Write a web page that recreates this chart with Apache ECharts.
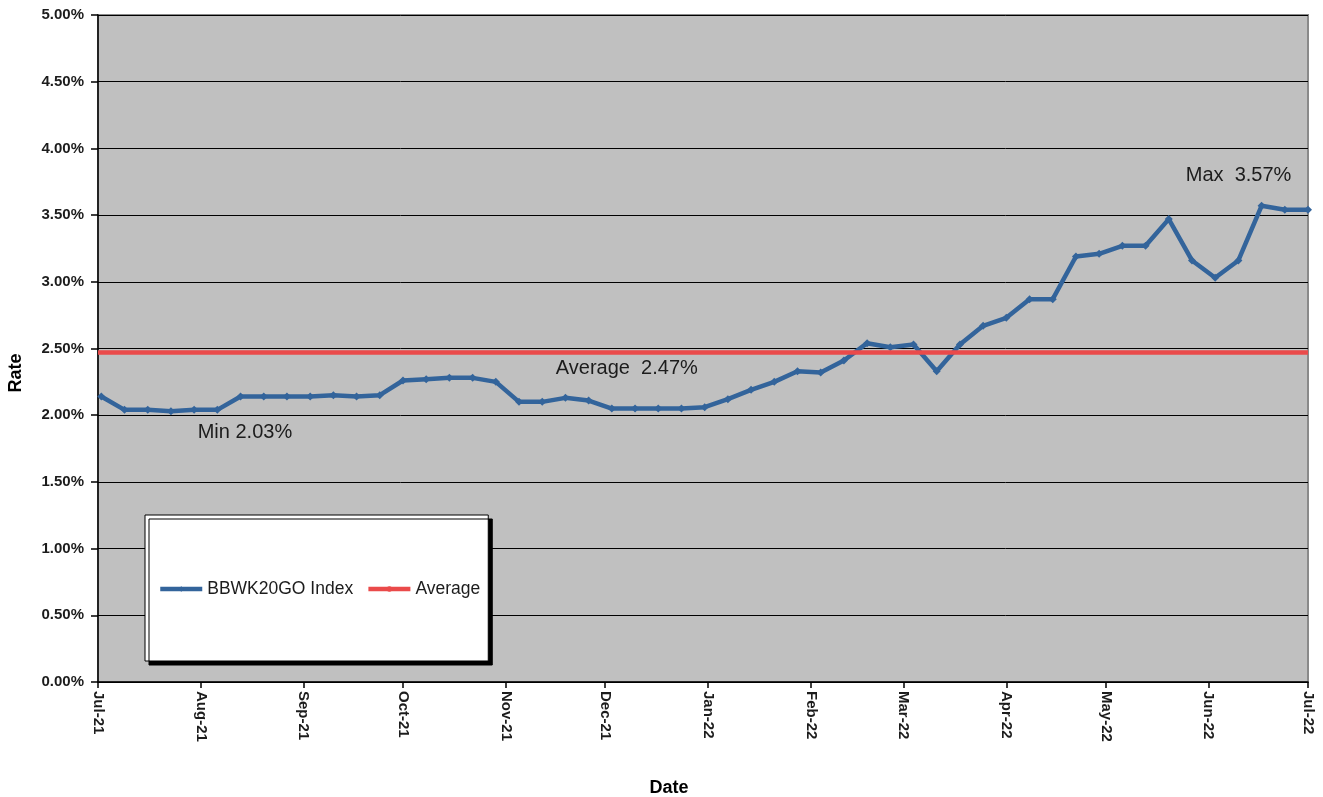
<!DOCTYPE html>
<html>
<head>
<meta charset="utf-8">
<title>BBWK20GO Index</title>
<script src="https://cdn.jsdelivr.net/npm/echarts@6/dist/echarts.min.js"></script>
<style>
  html, body { margin: 0; padding: 0; background: #ffffff; }
  #chart { width: 1323px; height: 797px; }
</style>
</head>
<body>
<div id="chart"></div>
<script>
// Weekly observation dates (Fridays)
const dates = [
  '2021-07-02','2021-07-09','2021-07-16','2021-07-23','2021-07-30',
  '2021-08-06','2021-08-13','2021-08-20','2021-08-27',
  '2021-09-03','2021-09-10','2021-09-17','2021-09-24',
  '2021-10-01','2021-10-08','2021-10-15','2021-10-22','2021-10-29',
  '2021-11-05','2021-11-12','2021-11-19','2021-11-26',
  '2021-12-03','2021-12-10','2021-12-17','2021-12-24','2021-12-31',
  '2022-01-07','2022-01-14','2022-01-21','2022-01-28',
  '2022-02-04','2022-02-11','2022-02-18','2022-02-25',
  '2022-03-04','2022-03-11','2022-03-18','2022-03-25',
  '2022-04-01','2022-04-08','2022-04-15','2022-04-22','2022-04-29',
  '2022-05-06','2022-05-13','2022-05-20','2022-05-27',
  '2022-06-03','2022-06-10','2022-06-17','2022-06-24','2022-07-01'
];

// BBWK20GO Index rate, in percent
const rates = [
  2.14, 2.04, 2.04, 2.03, 2.04,
  2.04, 2.14, 2.14, 2.14,
  2.14, 2.15, 2.14, 2.15,
  2.26, 2.27, 2.28, 2.28, 2.25,
  2.10, 2.10, 2.13, 2.11,
  2.05, 2.05, 2.05, 2.05, 2.06,
  2.12, 2.19, 2.25, 2.33,
  2.32, 2.41, 2.54, 2.51,
  2.53, 2.33, 2.53, 2.67,
  2.73, 2.87, 2.87, 3.19, 3.21,
  3.27, 3.27, 3.47, 3.16,
  3.03, 3.16, 3.57, 3.54, 3.54
];

// Average rate over the period, in percent
const AVERAGE = 2.47;

// Month-start ticks on the date axis and their labels
const monthTicks = [
  '2021-07-01','2021-08-01','2021-09-01','2021-10-01','2021-11-01','2021-12-01',
  '2022-01-01','2022-02-01','2022-03-01','2022-04-01','2022-05-01','2022-06-01','2022-07-01'
];
const monthLabels = [
  'Jul-21','Aug-21','Sep-21','Oct-21','Nov-21','Dec-21',
  'Jan-22','Feb-22','Mar-22','Apr-22','May-22','Jun-22','Jul-22'
];

function dayStamp(s) {
  const p = s.split('-').map(Number);
  return Date.UTC(p[0], p[1] - 1, p[2]);
}
const tickTimes = monthTicks.map(dayStamp);
const pointTimes = dates.map(dayStamp);
const pct = v => v.toFixed(2) + '%';

const FONT = '"Liberation Sans", Arial, Helvetica, sans-serif';
const BLUE = '#33649b';
const RED = '#ea4a4a';
const TEXT = '#1c1c1c';

const chart = echarts.init(document.getElementById('chart'), null, { renderer: 'canvas' });

chart.setOption({
  backgroundColor: '#ffffff',
  animation: false,
  textStyle: { fontFamily: FONT },
  grid: {
    left: 98, right: 15, top: 15, bottom: 115,
    show: true,
    backgroundColor: '#c0c0c0',
    borderColor: '#8a8a8a',
    borderWidth: 2
  },
  legend: {
    left: 145, top: 515,
    orient: 'horizontal',
    backgroundColor: '#ffffff',
    borderColor: '#000000',
    borderWidth: 1,
    padding: [65, 8, 63, 13],
    shadowColor: '#000000',
    shadowBlur: 0,
    shadowOffsetX: 4,
    shadowOffsetY: 4,
    itemWidth: 42,
    itemHeight: 7,
    itemGap: 13,
    lineStyle: { width: 4.5 },
    textStyle: { fontFamily: FONT, fontSize: 17.5, color: TEXT },
    data: ['BBWK20GO Index', 'Average']
  },
  xAxis: {
    type: 'value',
    min: tickTimes[0],
    max: tickTimes[tickTimes.length - 1],
    axisLine: { show: true, onZero: false, lineStyle: { color: '#000000', width: 1.5 } },
    axisTick: {
      show: true, length: 6, inside: false,
      customValues: tickTimes,
      lineStyle: { color: '#000000', width: 1.5 }
    },
    axisLabel: {
      show: true,
      customValues: tickTimes,
      rotate: -90,
      margin: 9,
      fontFamily: FONT,
      fontSize: 15,
      fontWeight: 'bold',
      color: TEXT,
      formatter: function (v) {
        const i = tickTimes.indexOf(v);
        return i >= 0 ? monthLabels[i] : '';
      }
    },
    splitLine: { show: false }
  },
  yAxis: {
    type: 'value',
    min: 0,
    max: 5,
    interval: 0.5,
    axisLine: { show: true, lineStyle: { color: '#000000', width: 1.5 } },
    axisTick: { show: true, length: 7, inside: false, lineStyle: { color: '#000000', width: 1.5 } },
    axisLabel: {
      margin: 14,
      fontFamily: FONT,
      fontSize: 15,
      fontWeight: 'bold',
      color: TEXT,
      formatter: v => pct(v)
    },
    splitLine: { show: true, lineStyle: { color: '#000000', width: 1 } }
  },
  series: [
    {
      name: 'Average',
      type: 'line',
      data: [],
      color: RED,
      symbol: 'none',
      lineStyle: { color: RED, width: 4.5 },
      showSymbol: false,
      markLine: {
        silent: true,
        symbol: 'none',
        label: { show: false },
        lineStyle: { color: RED, width: 4.5, type: 'solid' },
        data: [{ yAxis: AVERAGE }]
      },
      markPoint: {
        silent: true,
        symbol: 'circle',
        symbolSize: 0,
        itemStyle: { color: 'transparent' },
        label: {
          show: true,
          position: 'inside',
          offset: [15, 16],
          fontFamily: FONT,
          fontSize: 20,
          color: TEXT,
          formatter: () => 'Average  ' + pct(AVERAGE)
        },
        data: [{ coord: [pointTimes[22], AVERAGE] }]
      }
    },
    {
      name: 'BBWK20GO Index',
      type: 'line',
      data: pointTimes.map((t, i) => [t, rates[i]]),
      color: BLUE,
      lineStyle: { color: BLUE, width: 4.5 },
      itemStyle: { color: BLUE },
      symbol: 'diamond',
      symbolSize: 8,
      showSymbol: true,
      markPoint: {
        silent: true,
        symbol: 'circle',
        symbolSize: 0,
        itemStyle: { color: 'transparent' },
        label: {
          show: true,
          position: 'inside',
          fontFamily: FONT,
          fontSize: 20,
          color: TEXT
        },
        data: [
          {
            type: 'min',
            label: { offset: [74, 21], formatter: p => 'Min ' + pct(p.value) }
          },
          {
            type: 'max',
            label: { offset: [-23, -30], formatter: p => 'Max  ' + pct(p.value) }
          }
        ]
      }
    }
  ],
  graphic: [
    {
      type: 'text',
      x: 16, y: 373,
      rotation: Math.PI / 2,
      style: {
        text: 'Rate',
        font: 'bold 18px ' + FONT,
        fill: '#000000',
        align: 'center',
        verticalAlign: 'middle'
      }
    },
    {
      type: 'text',
      x: 669, y: 788,
      style: {
        text: 'Date',
        font: 'bold 18px ' + FONT,
        fill: '#000000',
        align: 'center',
        verticalAlign: 'middle'
      }
    }
  ]
});
</script>
</body>
</html>
